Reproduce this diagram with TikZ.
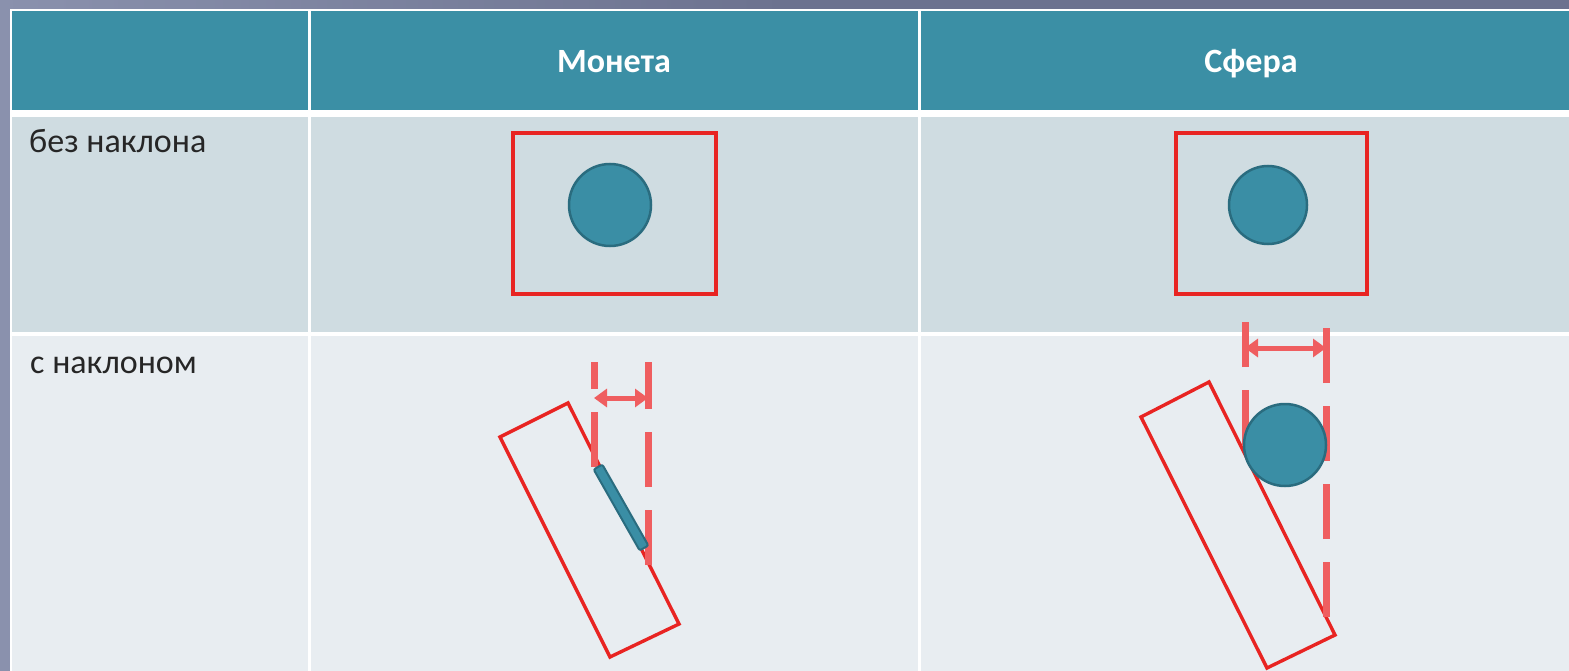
\documentclass[tikz,border=0pt]{standalone}
\usepackage{fontspec}
\setmainfont{Carlito}
\usetikzlibrary{arrows.meta,calc}
\definecolor{slate}{RGB}{108,114,143}
\definecolor{slateL}{RGB}{138,145,173}
\definecolor{head}{RGB}{59,143,165}
\definecolor{rowA}{RGB}{207,220,225}
\definecolor{rowB}{RGB}{232,237,241}
\definecolor{frameR}{RGB}{232,36,34}
\definecolor{guideR}{RGB}{239,94,96}
\definecolor{ball}{RGB}{58,142,165}
\definecolor{ballD}{RGB}{42,108,127}
\tikzset{
  box/.style={draw=frameR, line width=3.4pt, line join=miter},
  guide/.style={draw=guideR, line width=7pt, dash pattern=on 55pt off 23pt},
  span/.style={{Triangle[length=13pt,width=18pt]}-{Triangle[length=13pt,width=18pt]}, draw=guideR, line width=5pt},
  ballst/.style={fill=ball, draw=ballD, line width=2.5pt},
  lbl/.style={font=\fontsize{34}{40}\selectfont, text=black!85, inner sep=0pt},
  hd/.style={font=\fontsize{34}{40}\selectfont\bfseries, text=white, inner sep=0pt},
}

\begin{document}
\begin{tikzpicture}[x=1pt, y=-1pt]
  \useasboundingbox (0,0) rectangle (1569,671);
  \clip (0,0) rectangle (1569,671);
  % slide background
  \shade[left color=slateL, right color=slate, middle color=slate] (0,0) rectangle (1569,671);
  % table
  \fill[white] (10,9) rectangle (1580,680);
  \fill[head] (12,11) rectangle (1580,110);
  \fill[rowA] (12,117) rectangle (1580,332);
  \fill[rowB] (12,336) rectangle (1580,680);
  \foreach \cx in {309.5,919.5}
    \draw[white, line width=2.5pt] (\cx,11) -- (\cx,680);
  \node[hd, anchor=base] (hdcoin) at (614,73) {Монета};
  \node[hd, anchor=base] (hdsphere) at (1251,73) {Сфера};
  \node[lbl, anchor=base west] (rowflat) at (29,153) {без наклона};
  \node[lbl, anchor=base west] (rowtilt) at (30,373) {с наклоном};

  % no tilt
  \draw[box] (513,133) rectangle (716,294);
  \draw[ballst] (610,205) circle (41);
  \draw[box] (1176,133) rectangle (1367,294);
  \draw[ballst] (1268,205) circle (39);

  % tilted: coin
  \draw[box] (500,437) -- (568,403) -- (679,624) -- (610,657) -- cycle;
  \coordinate (cL) at (594,467);
  \coordinate (cR) at (648,565);
  \draw[guide] (cL) -- (594,362);
  \draw[guide] (cR) -- (648,362);
  \coordinate (cT) at (598,467);
  \coordinate (cB) at (644,548);
  \draw[ballst, line width=2pt, rounded corners=2pt] ($(cT)!5pt!90:(cB)$) -- ($(cB)!5pt!-90:(cT)$)
    -- ($(cB)!5pt!90:(cT)$) -- ($(cT)!5pt!-90:(cB)$) -- cycle;
  \coordinate (aL) at (594,398);
  \coordinate (aR) at (648,398);
  \draw[span] (aL) -- (aR);

  % tilted: sphere
  \draw[box] (1141,417) -- (1209,382) -- (1335,635) -- (1267,668) -- cycle;
  \coordinate (sL) at (1245,445);
  \coordinate (sR) at (1326,617);
  \draw[guide] (sL) -- (1245,322);
  \draw[guide] (sR) -- (1326,327);
  \draw[ballst] (1285,445) circle (41);
  \coordinate (bL) at (1245,348);
  \coordinate (bR) at (1326,348);
  \draw[span] (bL) -- (bR);
\end{tikzpicture}
\end{document}
